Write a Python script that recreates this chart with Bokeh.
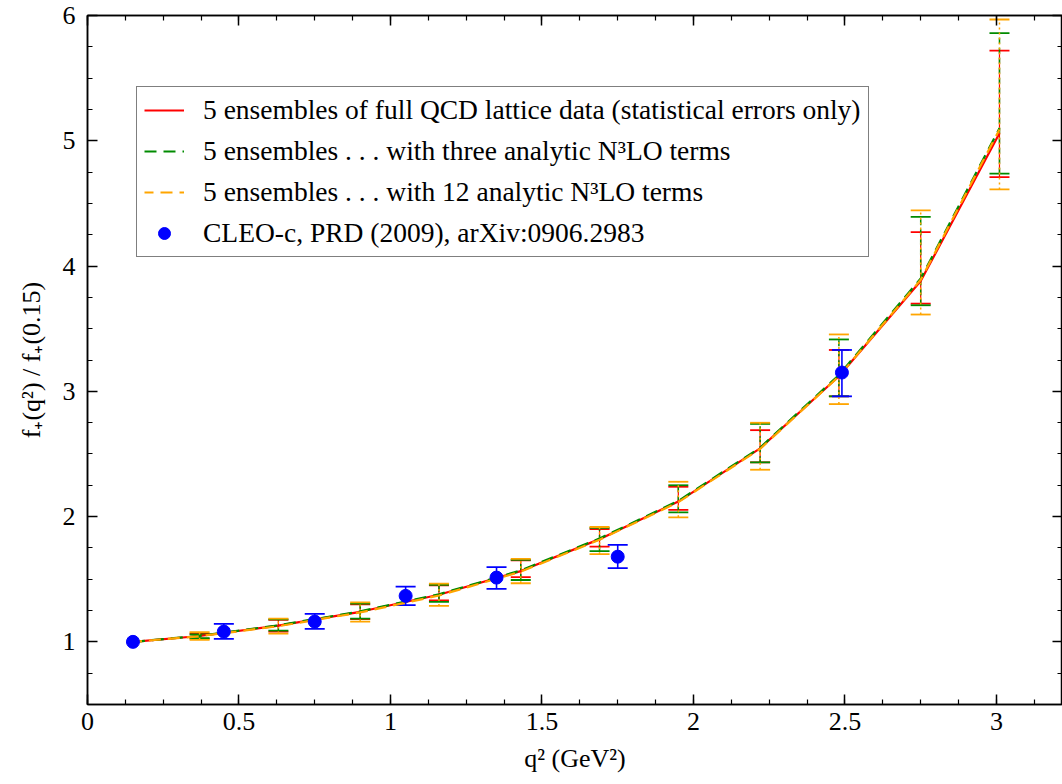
from bokeh.plotting import figure
from bokeh.models import (ColumnDataSource, Whisker, TeeHead, FixedTicker, LinearAxis,
                          Legend, LegendItem, CustomJSTickFormatter, Range1d)
from bokeh.embed import file_html
from bokeh.resources import INLINE

# ---- data ----
q2_lat = [0.15, 0.37, 0.63, 0.90, 1.16, 1.43, 1.69, 1.95, 2.22, 2.48, 2.75, 3.01]
red_f = [1.0, 1.047, 1.13, 1.24, 1.376, 1.565, 1.82, 2.12, 2.545, 3.12, 3.88, 5.06]
green_f = [1.0, 1.048, 1.132, 1.243, 1.38, 1.57, 1.825, 2.125, 2.55, 3.13, 3.90, 5.10]
orange_f = [1.0, 1.045, 1.125, 1.235, 1.37, 1.56, 1.815, 2.115, 2.54, 3.12, 3.89, 5.09]

red_lo = [1.026, 1.082, 1.181, 1.33, 1.516, 1.76, 2.053, 2.433, 2.96, 3.70, 4.71]
red_hi = [1.066, 1.175, 1.30, 1.452, 1.651, 1.90, 2.238, 2.69, 3.33, 4.27, 5.72]
green_lo = [1.03, 1.09, 1.185, 1.32, 1.494, 1.725, 2.034, 2.433, 2.96, 3.687, 4.737]
green_hi = [1.06, 1.18, 1.305, 1.455, 1.655, 1.91, 2.25, 2.74, 3.414, 4.392, 5.859]
orange_lo = [1.016, 1.066, 1.162, 1.287, 1.468, 1.70, 1.994, 2.374, 2.898, 3.613, 4.612]
orange_hi = [1.077, 1.186, 1.316, 1.465, 1.662, 1.917, 2.278, 2.749, 3.454, 4.445, 5.968]

q2_cleo = [0.15, 0.45, 0.75, 1.05, 1.35, 1.75, 2.49]
f_cleo = [1.0, 1.082, 1.162, 1.367, 1.513, 1.68, 3.15]
cleo_lo = [1.0, 1.024, 1.104, 1.293, 1.423, 1.588, 2.96]
cleo_hi = [1.0, 1.144, 1.223, 1.441, 1.596, 1.774, 3.33]

x_ticks = [0, 0.5, 1, 1.5, 2, 2.5, 3]
y_ticks = [1, 2, 3, 4, 5, 6]

labels = [
    "5 ensembles of full QCD lattice data (statistical errors only)",
    "5 ensembles . . . with three analytic N\u00b3LO terms",
    "5 ensembles . . . with 12 analytic N\u00b3LO terms",
    "CLEO-c, PRD (2009), arXiv:0906.2983",
]
x_label = "q\u00b2 (GeV\u00b2)"
y_label = "f\u208a(q\u00b2) / f\u208a(0.15)"

RED = "#ff0000"
GREEN = "#008b00"
ORANGE = "#ffa500"
BLUE = "#0000ff"
FONT = "'Liberation Serif', 'Times New Roman', serif"

x_minor = [i * 0.125 for i in range(0, 27)]
y_minor = [0.5 + i * 0.25 for i in range(0, 23)]

p = figure(width=1062, height=784, output_backend="svg", toolbar_location=None,
           x_range=Range1d(0, 3.218), y_range=Range1d(0.5, 6.0),
           min_border_left=87, min_border_right=0, min_border_top=15, min_border_bottom=80,
           x_axis_location=None, y_axis_location=None)
p.grid.visible = False
p.outline_line_color = "black"
p.outline_line_width = 1.5
p.background_fill_color = "white"
p.border_fill_color = "white"

xt = FixedTicker(ticks=x_ticks, minor_ticks=x_minor)
yt = FixedTicker(ticks=y_ticks, minor_ticks=y_minor)


def style_axis(ax, labelled):
    ax.axis_line_color = "black"
    ax.axis_line_width = 1.5
    ax.major_tick_in = 10
    ax.major_tick_out = 0
    ax.minor_tick_in = 5
    ax.minor_tick_out = 0
    ax.major_tick_line_width = 1.5
    ax.minor_tick_line_width = 1.2
    ax.major_tick_line_color = "black"
    ax.minor_tick_line_color = "black"
    if labelled:
        ax.major_label_text_font = FONT
        ax.major_label_text_font_size = "26px"
        ax.major_label_text_color = "black"
        ax.axis_label_text_font = FONT
        ax.axis_label_text_font_size = "26px"
        ax.axis_label_text_font_style = "normal"
        ax.axis_label_text_color = "black"
    else:
        ax.formatter = CustomJSTickFormatter(code="return ''")
        ax.major_label_standoff = 0


xb = LinearAxis(ticker=xt, axis_label=x_label)
style_axis(xb, True)
xb.major_label_standoff = 8
xb.axis_label_standoff = 11
p.add_layout(xb, "below")

yl = LinearAxis(ticker=yt, axis_label=y_label)
style_axis(yl, True)
yl.major_label_standoff = 12
yl.axis_label_standoff = 14
p.add_layout(yl, "left")

xa = LinearAxis(ticker=xt)
style_axis(xa, False)
p.add_layout(xa, "above")

yr = LinearAxis(ticker=yt)
style_axis(yr, False)
p.add_layout(yr, "right")

# ---- error bars (lattice) ----
base = q2_lat[1:]
for lo, hi, col, dash, lw in [(red_lo, red_hi, RED, "solid", 1.2),
                              (green_lo, green_hi, GREEN, "6 4", 1.5),
                              (orange_lo, orange_hi, ORANGE, "2 3", 1.5)]:
    src = ColumnDataSource(dict(x=base, lo=lo, hi=hi))
    w = Whisker(source=src, base="x", lower="lo", upper="hi", dimension="height",
                line_color=col, line_dash=dash, line_width=lw, level="underlay",
                upper_head=TeeHead(size=20, line_color=col, line_width=1.8),
                lower_head=TeeHead(size=20, line_color=col, line_width=1.8))
    p.add_layout(w)

# ---- curves ----
r_red = p.line(q2_lat, red_f, line_color=RED, line_width=2.2)
r_green = p.line(q2_lat, green_f, line_color=GREEN, line_width=2.2, line_dash="12 7")
r_orange = p.line(q2_lat, orange_f, line_color=ORANGE, line_width=2.2, line_dash="12 7",
                  line_dash_offset=3)

# ---- CLEO data ----
csrc = ColumnDataSource(dict(x=q2_cleo[1:], lo=cleo_lo[1:], hi=cleo_hi[1:]))
wc = Whisker(source=csrc, base="x", lower="lo", upper="hi", dimension="height",
             line_color=BLUE, line_width=1.6,
             upper_head=TeeHead(size=20, line_color=BLUE, line_width=1.8),
             lower_head=TeeHead(size=20, line_color=BLUE, line_width=1.8))
p.add_layout(wc)
r_blue = p.scatter(q2_cleo, f_cleo, size=13, marker="circle", fill_color=BLUE,
                   line_color=BLUE)

legend = Legend(items=[LegendItem(label=labels[0], renderers=[r_red]),
                       LegendItem(label=labels[1], renderers=[r_green]),
                       LegendItem(label=labels[2], renderers=[r_orange]),
                       LegendItem(label=labels[3], renderers=[r_blue])],
                location=(49, 447), orientation="vertical",
                border_line_color="black", border_line_width=1.5,
                background_fill_color="white", background_fill_alpha=1.0,
                padding=7, margin=0, spacing=9,
                glyph_width=40, glyph_height=30, label_height=30, label_standoff=19,
                label_text_font=FONT, label_text_font_size="27.5px",
                label_text_color="black")
p.add_layout(legend)

open("out.html", "w").write(file_html(p, INLINE))
